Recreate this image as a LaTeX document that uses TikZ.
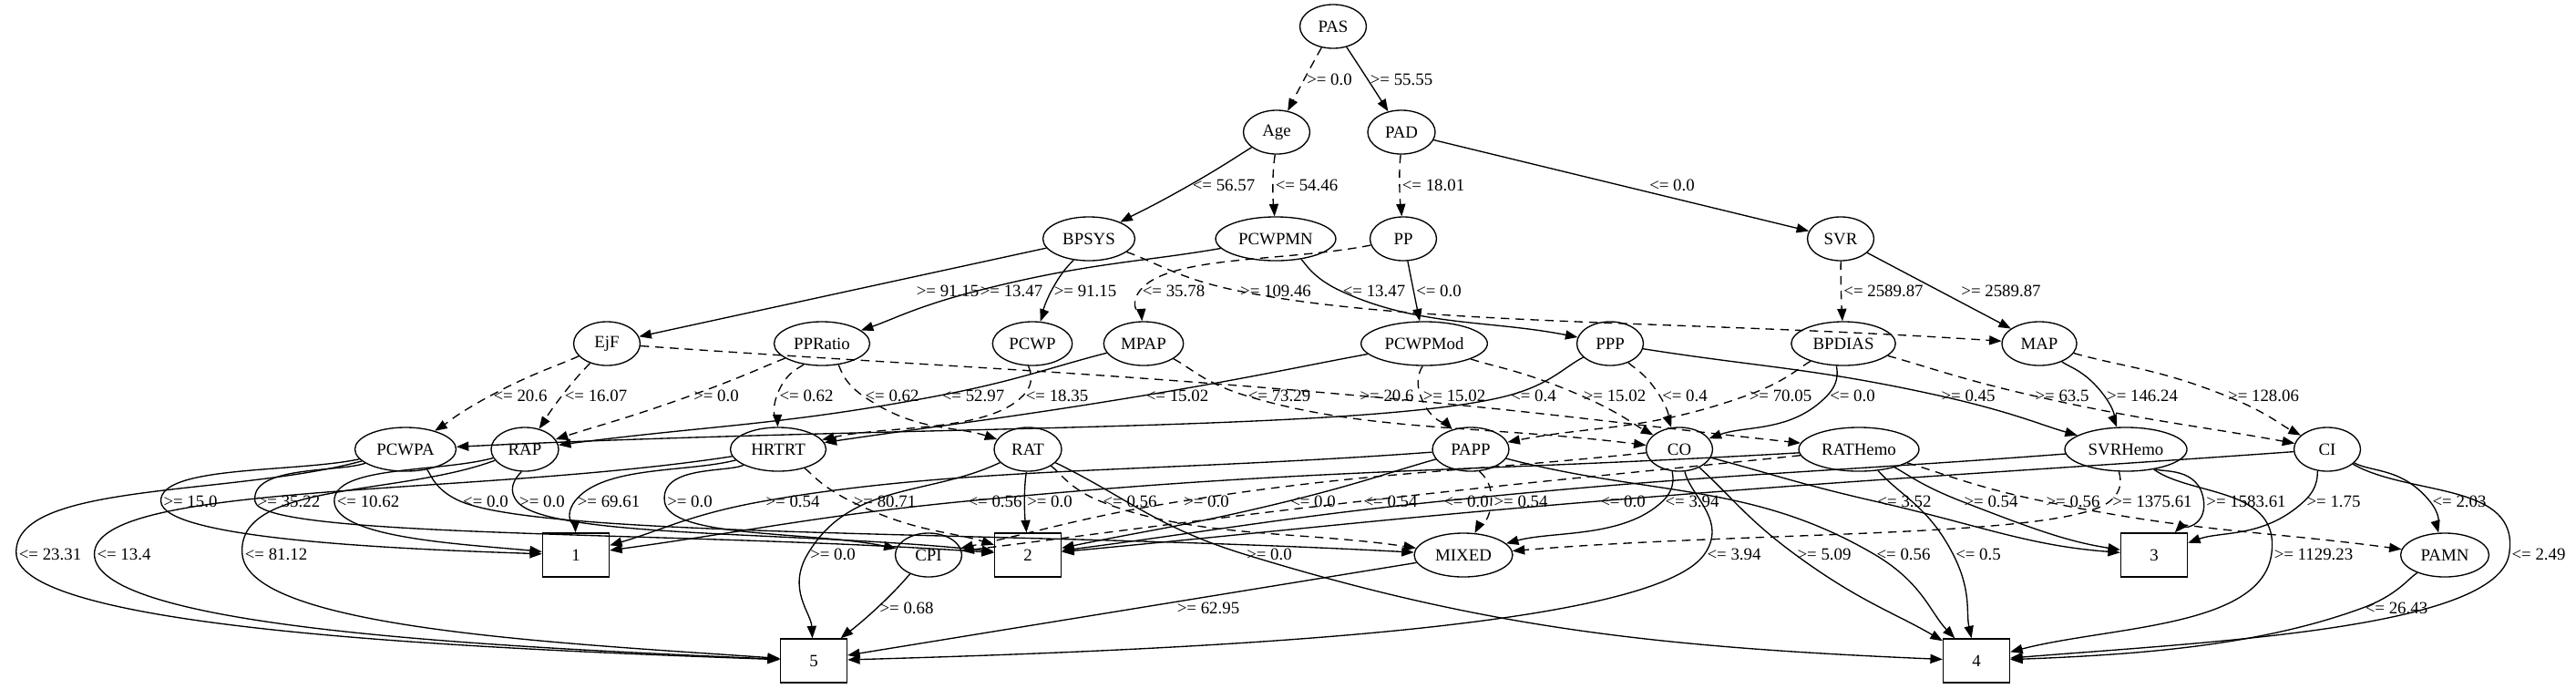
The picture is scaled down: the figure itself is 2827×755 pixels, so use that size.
\documentclass[tikz,border=0pt]{standalone}
\usepackage{fontspec}
\setmainfont{Liberation Serif}
\usetikzlibrary{arrows.meta,calc,shapes.geometric}
% edge from #2 through the west side of label #3 to #4; #5 = arrival flatness
\newcommand\gvedgeX[5]{%
 \draw[edge,#1] let \p1=(#2), \p2=([xshift=-2pt]#3.west), \p3=(#4),
   \n1={veclen((\x2-\x1)/100,(\y2-\y1)/100)},
   \n2={veclen((\x3-\x2)/100,(\y3-\y2)/100)},
   \n3={(\x2-\x1)/100/\n1+(\x3-\x2)/100/\n2},
   \n4={(\y2-\y1)/100/\n1+(\y3-\y2)/100/\n2},
   \n5={veclen(\n3,\n4)+0.0001},
   \n6={min(0.38*\n1, 0.7*abs(\y2-\y1)/100/(abs(\n4/\n5)+0.01))},
   \n7={min(0.38*\n2, 0.7*abs(\y3-\y2)/100/(abs(\n4/\n5)+0.01))},
   \n9={#5} in
   (#2) .. controls ({\x1+0.45*(\x2-\x1)},{\y1+0.45*(\y2-\y1)}) and ({\x2-100*\n6*\n3/\n5},{\y2-100*\n6*\n4/\n5}) .. (\p2)
   .. controls ({\x2+100*\n7*\n3/\n5},{\y2+100*\n7*\n4/\n5}) and ({\x3+0.45*(\x2-\x3)},{\y3+0.45*\n9*(\y2-\y3)}) .. (#4);}
\newcommand\gvedge[4][]{\gvedgeX{#1}{#2}{#3}{#4}{1}}
\newcommand\gvedgeH[4][]{\gvedgeX{#1}{#2}{#3}{#4}{min(1,2*abs(\y3-\y2)/(abs(\x3-\x2)+1))}}
\tikzset{
 every node/.style={font=\fontsize{14}{16}\selectfont},
 el/.style={draw, ellipse, line width=1pt, minimum height=35.7pt, minimum width=#1, inner sep=0pt},
 el/.default=54.2pt,
 bx/.style={draw, rectangle, line width=1pt, minimum width=54.2pt, minimum height=35.7pt, inner sep=0pt},
 lbl/.style={inner sep=0pt},
 edge/.style={line width=1pt, -{Triangle[length=10pt,width=7.5pt]}},
 dsh/.style={dash pattern=on 7pt off 5pt},
}
\begin{document}
\begin{tikzpicture}[x=0.743pt,y=-0.743pt]
\useasboundingbox (0,0) rectangle (2827,755);
% nodes
\node[el] (PAS) at (1463,29) {PAS};
\node[el] (Age) at (1401,145) {Age};
\node[el=55pt] (PAD) at (1538,145) {PAD};
\node[el=75pt] (BPSYS) at (1195,262) {BPSYS};
\node[el=98pt] (PCWPMN) at (1400,262) {PCWPMN};
\node[el] (PP) at (1540,262) {PP};
\node[el] (SVR) at (2020,262) {SVR};
\node[el] (EjF) at (666,377) {EjF};
\node[el=78pt] (PPRatio) at (902,377) {PPRatio};
\node[el=65pt] (PCWP) at (1133,377) {PCWP};
\node[el=65pt] (MPAP) at (1255,377) {MPAP};
\node[el=103pt] (PCWPMod) at (1563,377) {PCWPMod};
\node[el] (PPP) at (1767,377) {PPP};
\node[el=85pt] (BPDIAS) at (2023,377) {BPDIAS};
\node[el=61pt] (MAP) at (2238,377) {MAP};
\node[el=82.5pt] (PCWPA) at (445,493) {PCWPA};
\node[el=55pt] (RAP) at (576,493) {RAP};
\node[el=78pt] (HRTRT) at (854,493) {HRTRT};
\node[el=55pt] (RAT) at (1128,493) {RAT};
\node[el=62.4pt] (PAPP) at (1614,493) {PAPP};
\node[el] (CO) at (1843,493) {CO};
\node[el=98pt] (RATHemo) at (2040,493) {RATHemo};
\node[el=99.6pt] (SVRHemo) at (2333,493) {SVRHemo};
\node[el] (CI) at (2554,493) {CI};
\node[bx] (T1) at (632,609) {1};
\node[el] (CPI) at (1019,609) {CPI};
\node[bx] (T2) at (1128,609) {2};
\node[el=80.2pt] (MIXED) at (1606,609) {MIXED};
\node[bx] (T3) at (2364,609) {3};
\node[el=72pt] (PAMN) at (2683,609) {PAMN};
\node[bx] (T5) at (893,725) {5};
\node[bx] (T4) at (2169,725) {4};
% labels
\node[lbl] (la1) at (1459,87) {>= 0.0};
\node[lbl] (la2) at (1538,87) {>= 55.55};
\node[lbl] (lb1) at (1343,203) {<= 56.57};
\node[lbl] (lb2) at (1434,203) {<= 54.46};
\node[lbl] (lb3) at (1573,203) {<= 18.01};
\node[lbl] (lb4) at (1835,203) {<= 0.0};
\node[lbl] (lc1) at (1040,319) {>= 91.15};
\node[lbl] (lc2) at (1110,319) {>= 13.47};
\node[lbl] (lc3) at (1191,319) {>= 91.15};
\node[lbl] (lc4) at (1288,319) {<= 35.78};
\node[lbl] (lc5) at (1400,319) {>= 109.46};
\node[lbl] (lc6) at (1508,319) {<= 13.47};
\node[lbl] (lc7) at (1579,319) {<= 0.0};
\node[lbl] (lc8) at (2067,319) {<= 2589.87};
\node[lbl] (lc9) at (2196,319) {>= 2589.87};
\node[lbl] (ld1) at (571,434) {<= 20.6};
\node[lbl] (ld2) at (654,434) {<= 16.07};
\node[lbl] (ld3) at (786,434) {>= 0.0};
\node[lbl] (ld4) at (885,434) {<= 0.62};
\node[lbl] (ld5) at (979,434) {<= 0.62};
\node[lbl] (ld6) at (1068,434) {<= 52.97};
\node[lbl] (ld7) at (1160,434) {<= 18.35};
\node[lbl] (ld8) at (1292,434) {<= 15.02};
\node[lbl] (ld9) at (1404,434) {<= 73.29};
\node[lbl] (ld10) at (1522,434) {>= 20.6};
\node[lbl] (ld11) at (1596,434) {>= 15.02};
\node[lbl] (ld12) at (1683,434) {<= 0.4};
\node[lbl] (ld13) at (1772,434) {>= 15.02};
\node[lbl] (ld14) at (1849,434) {<= 0.4};
\node[lbl] (ld15) at (1954,434) {>= 70.05};
\node[lbl] (ld16) at (2033,434) {<= 0.0};
\node[lbl] (ld17) at (2160,434) {>= 0.45};
\node[lbl] (ld18) at (2263,434) {>= 63.5};
\node[lbl] (ld19) at (2351,434) {>= 146.24};
\node[lbl] (ld20) at (2484,434) {>= 128.06};
\node[lbl] (le1) at (209,550) {>= 15.0};
\node[lbl] (le2) at (317,550) {>= 35.22};
\node[lbl] (le3) at (404,550) {<= 10.62};
\node[lbl] (le4) at (533,550) {<= 0.0};
\node[lbl] (le5) at (595,550) {>= 0.0};
\node[lbl] (le6) at (668,550) {>= 69.61};
\node[lbl] (le7) at (757,550) {>= 0.0};
\node[lbl] (le8) at (870,550) {>= 0.54};
\node[lbl] (le9) at (971,550) {>= 80.71};
\node[lbl] (le10) at (1092,550) {<= 0.56};
\node[lbl] (le11) at (1152,550) {>= 0.0};
\node[lbl] (le12) at (1240,550) {<= 0.56};
\node[lbl] (le13) at (1324,550) {>= 0.0};
\node[lbl] (le14) at (1441,550) {<= 0.0};
\node[lbl] (le15) at (1526,550) {<= 0.54};
\node[lbl] (le16) at (1609,550) {<= 0.0};
\node[lbl] (le17) at (1669,550) {>= 0.54};
\node[lbl] (le18) at (1781,550) {<= 0.0};
\node[lbl] (le19) at (1857,550) {<= 3.94};
\node[lbl] (le20) at (2090,550) {<= 3.52};
\node[lbl] (le21) at (2185,550) {>= 0.54};
\node[lbl] (le22) at (2275,550) {>= 0.56};
\node[lbl] (le23) at (2362,550) {>= 1375.61};
\node[lbl] (le24) at (2465,550) {>= 1583.61};
\node[lbl] (le25) at (2561,550) {>= 1.75};
\node[lbl] (le26) at (2699,550) {<= 2.03};
\node[lbl] (lf1) at (55,608) {<= 23.31};
\node[lbl] (lf2) at (136,608) {<= 13.4};
\node[lbl] (lf3) at (303,608) {<= 81.12};
\node[lbl] (lf4) at (914,608) {>= 0.0};
\node[lbl] (lf5) at (1393,608) {>= 0.0};
\node[lbl] (lf6) at (1903,608) {<= 3.94};
\node[lbl] (lf7) at (2002,608) {>= 5.09};
\node[lbl] (lf8) at (2089,608) {<= 0.56};
\node[lbl] (lf9) at (2171,608) {<= 0.5};
\node[lbl] (lf10) at (2539,608) {>= 1129.23};
\node[lbl] (lf11) at (2786,608) {<= 2.49};
\node[lbl] (lg1) at (995,667) {>= 0.68};
\node[lbl] (lg2) at (1326,667) {>= 62.95};
\node[lbl] (lg3) at (2630,667) {<= 26.43};
% edges rank 0-2
\gvedge[dsh]{PAS}{la1}{Age}
\gvedge{PAS}{la2}{PAD}
\gvedge{Age}{lb1}{BPSYS}
\gvedge[dsh]{Age}{lb2}{PCWPMN}
\gvedge[dsh]{PAD}{lb3}{PP}
\draw[edge] (PAD) -- (SVR);
% rank 2-3
\draw[edge] (BPSYS) -- (EjF);
\gvedge{PCWPMN}{lc2}{PPRatio}
\gvedge{BPSYS}{lc3}{PCWP}
\gvedge[dsh]{PP}{lc4}{MPAP}
\gvedge[dsh]{BPSYS}{lc5}{MAP}
\gvedge{PCWPMN}{lc6}{PPP}
\gvedge{PP}{lc7}{PCWPMod}
\gvedge[dsh]{SVR}{lc8}{BPDIAS}
\draw[edge] (SVR) -- (MAP);
% rank 3-4
\gvedge[dsh]{EjF}{ld1}{PCWPA}
\gvedge[dsh]{EjF}{ld2}{RAP}
\gvedge[dsh]{PPRatio}{ld3}{RAP}
\gvedge[dsh]{PPRatio}{ld4}{HRTRT}
\gvedge[dsh]{PPRatio}{ld5}{RAT}
\gvedge{MPAP}{ld6}{RAP}
\gvedge[dsh]{PCWP}{ld7}{HRTRT}
\gvedge{PCWPMod}{ld8}{HRTRT}
\gvedge[dsh]{MPAP}{ld9}{CO}
\gvedge[dsh]{EjF}{ld10}{RATHemo}
\gvedge[dsh]{PCWPMod}{ld11}{PAPP}
\gvedge{PPP}{ld12}{PCWPA}
\gvedge[dsh]{PCWPMod}{ld13}{CO}
\gvedge[dsh]{PPP}{ld14}{CO}
\gvedge[dsh]{BPDIAS}{ld15}{PAPP}
\gvedge{BPDIAS}{ld16}{CO}
\gvedge{PPP}{ld17}{SVRHemo}
\gvedge[dsh]{BPDIAS}{ld18}{CI}
\gvedge{MAP}{ld19}{SVRHemo}
\gvedge[dsh]{MAP}{ld20}{CI}
% rank 4-5
\gvedgeH{PCWPA}{le1}{T1}
\gvedge{PCWPA}{le2}{T2}
\gvedgeH{RAP}{le3}{T1}
\gvedge{PCWPA}{le4}{MIXED}
\gvedge{RAP}{le5}{T2}
\gvedge{HRTRT}{le6}{T1}
\gvedge{HRTRT}{le7}{CPI}
\gvedge{PAPP}{le8}{T1}
\gvedge[dsh]{HRTRT}{le9}{T2}
\gvedge{RATHemo}{le10}{T1}
\gvedge{RAT}{le11}{T2}
\gvedge[dsh]{RAT}{le12}{MIXED}
\gvedge[dsh]{CO}{le13}{CPI}
\gvedge{PAPP}{le14}{T2}
\gvedge[dsh]{RATHemo}{le15}{CPI}
\gvedge{SVRHemo}{le16}{T2}
\gvedge[dsh]{PAPP}{le17}{MIXED}
\gvedge{CI}{le18}{T2}
\gvedge{CO}{le19}{MIXED}
\gvedgeH{CO}{le20}{T3}
\gvedgeH{RATHemo}{le21}{T3}
\gvedge[dsh]{RATHemo}{le22}{PAMN}
\gvedge[dsh]{SVRHemo}{le23}{MIXED}
\gvedge{SVRHemo}{le24}{T3}
\gvedge{CI}{le25}{T3}
\gvedge{CI}{le26}{PAMN}
% rank 4-6
\gvedgeH{PCWPA}{lf1}{T5}
\gvedgeH{HRTRT}{lf2}{T5}
\gvedgeH{RAP}{lf3}{T5}
\gvedge{RAT}{lf4}{T5}
\gvedgeH{RAT}{lf5}{T4}
\gvedgeH{CO}{lf6}{T5}
\gvedge{CO}{lf7}{T4}
\gvedge{PAPP}{lf8}{T4}
\gvedge{RATHemo}{lf9}{T4}
\gvedgeH{SVRHemo}{lf10}{T4}
\gvedgeH{CI}{lf11}{T4}
% rank 5-6
\gvedge{CPI}{lg1}{T5}
\draw[edge] (MIXED) -- (T5);
\gvedgeH{PAMN}{lg3}{T4}
\end{tikzpicture}
\end{document}
